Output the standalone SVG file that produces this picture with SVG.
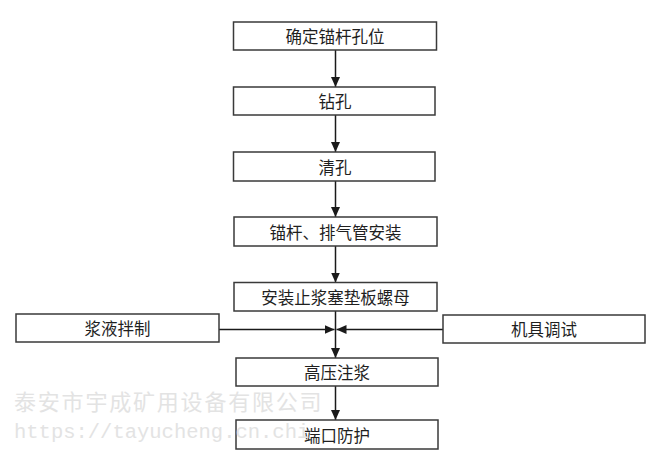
<svg xmlns="http://www.w3.org/2000/svg" width="666" height="457" viewBox="0 0 666 457">
<style>
.box{fill:#fff;stroke:#3a3a3a;stroke-width:1.5}
.lbl{font-family:"Noto Sans CJK SC","Microsoft YaHei",sans-serif;font-size:16.5px;fill:#1f1f1f;text-anchor:middle;dominant-baseline:central}
.conn{stroke:#1a1a1a;stroke-width:1.5;fill:none}
.wm1{font-family:"Noto Sans CJK SC",sans-serif;font-size:22px;fill:#e3e3e3;letter-spacing:1.8px}
.wm2{font-family:"Liberation Mono","DejaVu Sans Mono",monospace;font-size:20.5px;fill:#e3e3e3}
</style>
<defs>
<marker id="ah" markerUnits="userSpaceOnUse" markerWidth="10" markerHeight="10" viewBox="0 0 10 10" refX="10" refY="5" orient="auto">
<path d="M0,0.5 L10,5 L0,9.5 Z" fill="#1a1a1a"/>
</marker>
</defs>
<rect width="666" height="457" fill="#fff"/>
<g id="connectors">
<line class="conn" x1="335.5" y1="50" x2="335.5" y2="87" marker-end="url(#ah)"/>
<line class="conn" x1="335.5" y1="115" x2="335.5" y2="152" marker-end="url(#ah)"/>
<line class="conn" x1="335.5" y1="181" x2="335.5" y2="217" marker-end="url(#ah)"/>
<line class="conn" x1="335.5" y1="246" x2="335.5" y2="282.5" marker-end="url(#ah)"/>
<line class="conn" x1="335.5" y1="311" x2="335.5" y2="358" marker-end="url(#ah)"/>
<line class="conn" x1="219" y1="329.5" x2="334.5" y2="329.5" marker-end="url(#ah)"/>
<line class="conn" x1="443" y1="329.5" x2="336.5" y2="329.5" marker-end="url(#ah)"/>
<line class="conn" x1="335.5" y1="386" x2="335.5" y2="420" marker-end="url(#ah)"/>
</g>
<g id="n1"><rect class="box" x="233.5" y="22" width="203" height="28"/><text class="lbl" x="335" y="36">确定锚杆孔位</text></g>
<g id="n2"><rect class="box" x="233.5" y="87" width="201.5" height="28"/><text class="lbl" x="335" y="101">钻孔</text></g>
<g id="n3"><rect class="box" x="233.5" y="152" width="201.5" height="29"/><text class="lbl" x="335" y="166.5">清孔</text></g>
<g id="n4"><rect class="box" x="234" y="217" width="203" height="29"/><text class="lbl" x="335.5" y="231.5">锚杆、排气管安装</text></g>
<g id="n5"><rect class="box" x="234" y="282.5" width="203" height="28.5"/><text class="lbl" x="335.5" y="296.5">安装止浆塞垫板螺母</text></g>
<g id="n6"><rect class="box" x="16" y="314" width="203" height="28"/><text class="lbl" x="117.5" y="328">浆液拌制</text></g>
<g id="n7"><rect class="box" x="443" y="315" width="202" height="28"/><text class="lbl" x="544" y="329">机具调试</text></g>
<g id="n8"><rect class="box" x="236" y="358" width="202" height="28"/><text class="lbl" x="337" y="372">高压注浆</text></g>
<g id="n9"><rect class="box" x="236" y="420" width="202" height="29"/><text class="lbl" x="337" y="434.5">端口防护</text></g>
<g id="watermark">
<text class="wm1" x="14" y="410">泰安市宇成矿用设备有限公司</text>
<text class="wm2" x="14" y="438">https://tayucheng.cn.chi</text>
</g>
</svg>
